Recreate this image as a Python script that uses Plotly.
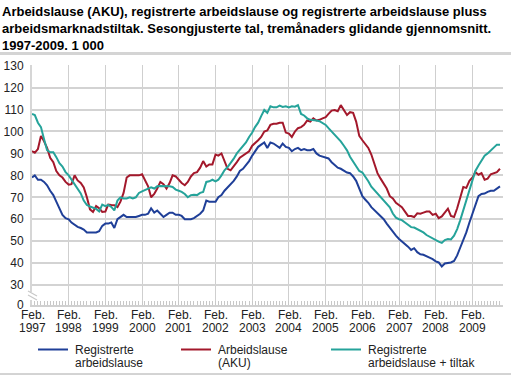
import plotly.graph_objects as go
import pandas as pd

# ---- data (monthly, Feb 1997 - Nov 2009), 1 000 persons ----
months = pd.date_range("1997-02-01", "2009-11-01", freq="MS")

registrerte = [
    79, 80, 78, 78, 77, 75.5, 73, 71, 68, 64.5, 62, 60.5,
    60, 58.5, 57.5, 56.5, 56, 55.3, 54, 54, 54, 54, 54.5, 57,
    58, 58, 58.5, 56, 60, 61, 62, 61, 61, 61, 61, 61.5,
    62, 62, 62.5, 65, 63, 64, 62.5, 61, 62, 63, 63, 62,
    62, 61.5, 60, 60, 60, 60.5, 61.5, 62.5, 64, 68.5, 68, 68,
    68, 70, 71, 73, 74.5, 76, 77.5, 79.5, 82, 83, 84.5, 86.5,
    89, 91, 93, 94, 95, 92.5, 95, 94.5, 93.5, 92.5, 94.5, 93,
    92.5, 91, 92, 92.5, 91.5, 92, 91.5, 91.5, 92, 90, 89, 88.5,
    88.3, 87.7, 86, 84.8, 83.5, 83, 82, 81.3, 81, 79.5, 77.5, 74,
    70.5, 69, 67.5, 65.5, 64, 62.8, 61.5, 60, 58, 56, 54.2, 52.5,
    51, 50, 49, 47.5, 46, 46.8, 45, 44, 43.8, 43.3, 42.5, 41.8,
    40.8, 40.3, 38.5, 39.8, 40, 40.3, 41, 43.5, 47, 50.5, 54, 58.5,
    62.5, 67, 70.5, 71.5, 71.7, 72.5, 73, 73, 74, 75,
]

aku = [
    91, 90.3, 92, 98, 95.5, 92.5, 88, 86, 82, 80, 79, 77,
    75.8, 76, 80, 77.7, 76.5, 74.5, 70, 64.5, 63.3, 66, 65, 63.3,
    63.5, 66.7, 66.5, 66.4, 65.5, 68, 72, 79, 80, 80, 80, 80,
    80.5, 78, 75, 70, 71.5, 74, 77, 76, 74, 76.5, 80, 79.5,
    78, 76.5, 75.5, 77, 79.5, 81, 81.5, 83.5, 86.5, 84, 85, 85,
    89.5, 89, 90, 86.5, 83, 82.3, 84, 86, 88, 89, 90, 91,
    93.5, 94.5, 96, 97.5, 100, 100.5, 103, 103.5, 103.5, 104, 104, 99.5,
    99, 97.5, 100, 101.5, 102, 103, 105, 104.5, 106, 105, 105.3, 106,
    106.5, 108, 109.5, 109.8, 109.2, 112, 110, 107.5, 108.8, 108.5, 104.5, 98,
    96, 94.5, 92.5, 89.5, 85, 81, 78.5, 76.5, 74, 70.5, 69.5, 67.5,
    66.5, 65.5, 63.5, 61.5, 61.5, 61, 62.7, 62.5, 63, 63.5, 63.5, 62,
    62.5, 60.5, 61.3, 63.3, 64.8, 61.5, 61, 65, 70, 74.7, 74.3, 77.5,
    79, 81.5, 80.3, 81, 78, 78.5, 80.5, 81, 81.5, 83,
]

tiltak = [
    108, 107.5, 104, 102, 96.5, 91.5, 90.5, 90.5, 88.3, 85.5, 84, 81.5,
    80, 78, 75.8, 73.8, 71.8, 68.5, 66.5, 65.8, 65.3, 64.7, 63.6, 66.7,
    66, 66.5, 65.6, 64, 68.5, 70, 69.5, 69.5, 70, 69.5, 70, 72,
    72.7, 73.2, 74, 74.5, 74, 75, 75.2, 75.2, 75.2, 75, 74.7, 73.5,
    73, 72.5, 71.5, 70, 71, 71.2, 71, 72, 72.4, 77, 77.3, 78,
    77.3, 78, 80, 82.3, 83.8, 85.5, 87.6, 90, 91.5, 93, 95, 97.5,
    99.5, 102, 104, 107, 109.8, 108.5, 111.5, 111, 111, 111.8, 111.2, 111.5,
    111, 111.5, 111.3, 112, 108, 107.3, 106, 105.3, 105.3, 105, 104.7, 104,
    103, 101.5, 100, 98.5, 97, 95.5, 93.5, 91.4, 88.5, 86.5, 84.5, 82,
    81.3, 79.5, 77.3, 74.8, 73.2, 71.7, 70.3, 68.9, 67, 65.4, 62.6, 60.7,
    60, 59.6, 58.5, 57.3, 56.4, 56.2, 55.5, 55, 54, 52.8, 52, 51.5,
    50.7, 49.8, 49.2, 50.5, 51, 50.8, 52.5, 55.5, 59.5, 64, 68.4, 72.5,
    78, 82, 84.5, 86.5, 89, 90, 91.2, 92.5, 94, 94,
]

series_names = ["Registrerte<br>arbeidslause", "Arbeidslause<br>(AKU)",
                "Registrerte<br>arbeidslause + tiltak"]
series_colors = ["#1f3f98", "#a3182b", "#25a39a"]

year_labels = [str(y) for y in range(1997, 2010)]
month_label = "Feb."
y_tick_values = [30, 40, 50, 60, 70, 80, 90, 100, 110, 120, 130]

title_text = ("Arbeidslause (AKU), registrerte arbeidslause og registrerte arbeidslause pluss<br>"
              "arbeidsmarknadstiltak. Sesongjusterte tal, tremånaders glidande gjennomsnitt.<br>"
              "1997-2009. 1 000")

# ---- layout geometry (pixels) ----
W, H = 511, 377
ML, MR, MT, MB = 32, 8, 65, 72
PW, PH = W - ML - MR, H - MT - MB
ZERO_POS = 30 - 20 / 2.2  # axis break: 0 drawn 20px below 30
FONT = "Liberation Sans, Arial, sans-serif"
LEGEND_X = [38, 181, 331]  # legend entry start (px)


def px_x(px):
    return (px - ML) / PW


def px_y(py):
    return (H - MB - py) / PH


fig = go.Figure()
for vals, name, col in zip([registrerte, aku, tiltak], series_names, series_colors):
    fig.add_trace(go.Scatter(x=months, y=vals, mode="lines", name=name.replace("<br>", " "),
                             line=dict(color=col, width=2), showlegend=False))

# legend (drawn as line sample + two label lines under the plot)
for lx, name, col in zip(LEGEND_X, series_names, series_colors):
    fig.add_shape(type="line", xref="paper", yref="paper",
                  x0=px_x(lx), x1=px_x(lx + 30), y0=px_y(349.5), y1=px_y(349.5),
                  line=dict(color=col, width=2))
    for i, line_txt in enumerate(name.split("<br>")):
        fig.add_annotation(x=px_x(lx + 35), y=px_y(350 + 12.5 * i), xref="paper", yref="paper",
                           text=line_txt, showarrow=False, align="left",
                           xanchor="left", yanchor="middle",
                           font=dict(family=FONT, size=12, color="#222"))

# title
fig.add_annotation(x=px_x(0), y=px_y(2), xref="paper", yref="paper",
                   text=title_text, showarrow=False, align="left",
                   xanchor="left", yanchor="top",
                   font=dict(family=FONT, size=13, color="#000", weight="bold"))

# x tick labels: "Feb." left-aligned above the year, year centred on the tick
for yl in year_labels:
    fig.add_annotation(x=f"{yl}-02-01", y=px_y(314.5), xref="x", yref="paper",
                       text=month_label, showarrow=False, xanchor="left", yanchor="middle",
                       xshift=-13.3, font=dict(family=FONT, size=12, color="#222"))
    fig.add_annotation(x=f"{yl}-02-01", y=px_y(327.5), xref="x", yref="paper",
                       text=yl, showarrow=False, xanchor="center", yanchor="middle",
                       font=dict(family=FONT, size=12, color="#222"))

# separator lines
fig.add_shape(type="line", xref="paper", yref="paper", x0=px_x(0), x1=px_x(W),
              y0=px_y(53.5), y1=px_y(53.5), line=dict(color="#d4d4d4", width=3))
fig.add_shape(type="line", xref="paper", yref="paper", x0=px_x(0), x1=px_x(W),
              y0=px_y(374), y1=px_y(374), line=dict(color="#a8a8a8", width=1))

# axis break marks
fig.add_shape(type="rect", xref="paper", yref="paper", x0=px_x(29), x1=px_x(35),
              y0=px_y(300), y1=px_y(292), fillcolor="white", line=dict(width=0))
for off in (0, 4):
    fig.add_shape(type="line", xref="paper", yref="paper",
                  x0=px_x(28), y0=px_y(291 + off), x1=px_x(37), y1=px_y(296 + off),
                  line=dict(color="#c8c8c8", width=1.2))

fig.update_layout(
    width=W, height=H,
    margin=dict(l=ML, r=MR, t=MT, b=MB, pad=0, autoexpand=False),
    paper_bgcolor="white", plot_bgcolor="white",
    font=dict(family=FONT, size=12, color="#222"),
    showlegend=False,
    xaxis=dict(range=["1997-02-01", "2009-12-01"], showgrid=True,
               gridcolor="#cfcfcf", gridwidth=1,
               tick0="1997-02-01", dtick="M12", showticklabels=False,
               ticks="inside", ticklen=4, tickcolor="#c8c8c8",
               minor=dict(dtick="M1", tick0="1997-02-01", ticks="inside", ticklen=4,
                          tickcolor="#c8c8c8", showgrid=False),
               showline=True, linecolor="#d0d0d0", linewidth=2, zeroline=False),
    yaxis=dict(range=[ZERO_POS, 130.3], showgrid=True, gridcolor="#d3d3d3", gridwidth=1.5,
               tickvals=[ZERO_POS] + y_tick_values,
               ticktext=["0"] + [str(v) for v in y_tick_values],
               ticks="", showline=True, linecolor="#d6d6d6", linewidth=2,
               zeroline=False, ticklabelstandoff=4,
               tickfont=dict(family=FONT, size=12, color="#222")),
)

fig.write_html("out.html", config={"displayModeBar": False},
               post_script="document.body.style.margin='0px';")
